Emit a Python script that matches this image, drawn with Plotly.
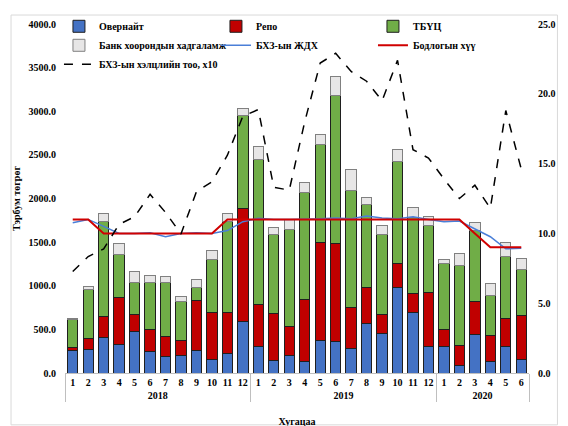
import plotly.graph_objects as go

# Periods (year, month) for the multicategory x axis.
years = ["2018"] * 12 + ["2019"] * 12 + ["2020"] * 6
months = [str(m) for m in range(1, 13)] * 2 + [str(m) for m in range(1, 7)]

# Stacked bars, billion MNT.
overnight = [255, 267, 412, 324, 480, 248, 191, 206, 259, 160, 229, 587,
             309, 141, 198, 133, 373, 362, 286, 564, 450, 983, 693, 305,
             305, 88, 442, 133, 305, 152]
repo = [42, 133, 236, 538, 191, 248, 228, 168, 568, 538, 469, 1304,
        480, 538, 335, 705, 1124, 1124, 468, 415, 217, 274, 214, 621,
        190, 232, 373, 294, 324, 511]
tbuc = [313, 561, 1094, 499, 366, 541, 618, 446, 153, 606, 1044, 1060,
        1662, 903, 1113, 1231, 1120, 1695, 1334, 956, 926, 1170, 876, 762,
        762, 911, 823, 461, 705, 526]
deposit = [15, 30, 88, 126, 126, 80, 65, 57, 87, 95, 88, 80,
           141, 88, 114, 110, 115, 217, 248, 77, 99, 133, 118, 103,
           46, 133, 88, 141, 163, 122]

# Lines on the right axis.
wavg_rate = [10.77, 11.0, 10.5, 10.0, 10.0, 10.05, 9.77, 10.0, 10.05, 10.0, 10.2, 10.84,
             11.08, 11.0, 11.0, 11.0, 11.05, 11.1, 11.05, 11.24, 11.1, 11.05, 11.19, 11.0,
             10.83, 10.88, 10.29, 9.76, 8.9, 8.93]
policy_rate = [11, 11, 10, 10, 10, 10, 10, 10, 10, 10, 11, 11,
               11, 11, 11, 11, 11, 11, 11, 11, 11, 11, 11, 11,
               11, 11, 10, 9, 9, 9]
deals_x10 = [7.27, 8.34, 8.89, 10.65, 11.2, 12.8, 11.5, 9.96, 13.0, 13.7, 15.6, 18.4,
             18.87, 13.3, 13.1, 18.0, 22.2, 22.9, 21.6, 20.9, 19.5, 22.4, 16.0, 15.4,
             13.9, 12.5, 13.45, 11.8, 18.8, 14.6]

x = [years, months]
serif = "Liberation Serif, Times New Roman, serif"
font = dict(family=serif, size=10, color="black", weight="bold")

fig = go.Figure()
bars = [("Овернайт", overnight, "#4472C4", "#1f1f1f"),
        ("Репо", repo, "#C00000", "#1f1f1f"),
        ("ТБҮЦ", tbuc, "#70AD47", "#1f1f1f"),
        ("Банк хоорондын хадгаламж", deposit, "#E7E6E6", "#808080")]
for name, vals, color, edge in bars:
    fig.add_trace(go.Bar(x=x, y=vals, name=name, marker_color=color,
                         marker_line=dict(color=edge, width=1)))

fig.add_trace(go.Scatter(x=x, y=wavg_rate, name="БХЗ-ын ЖДХ", mode="lines",
                         line=dict(color="#4A7FD8", width=1.5), yaxis="y2"))
fig.add_trace(go.Scatter(x=x, y=policy_rate, name="Бодлогын хүү", mode="lines",
                         line=dict(color="#D00000", width=2), yaxis="y2"))
fig.add_trace(go.Scatter(x=x, y=deals_x10, name="БХЗ-ын хэлцлийн тоо, x10", mode="lines",
                         line=dict(color="black", width=1.5, dash="dash"), yaxis="y2"))

L, R, T, B = 65, 30, 23, 53
W, H = 568, 426
pw, ph = W - L - R, H - T - B

fig.update_layout(
    width=W, height=H,
    margin=dict(l=L, r=R, t=T, b=B),
    barmode="stack", bargap=0.33,
    plot_bgcolor="white", paper_bgcolor="white",
    font=font,
    showlegend=True,
    legend=dict(orientation="h", x=-0.013, y=1.035, xanchor="left", yanchor="top",
                entrywidth=112, traceorder="normal", bgcolor="rgba(0,0,0,0)",
                font=font, tracegroupgap=0, itemwidth=30),
    xaxis=dict(type="multicategory", showgrid=False, showline=True, linecolor="#BFBFBF",
               dividercolor="#BFBFBF", dividerwidth=1, ticks="", tickangle=0,
               automargin=False,
               title=dict(text="Хугацаа", standoff=17, font=font)),
    yaxis=dict(range=[0, 4000], dtick=500, tickformat=".1f", showgrid=False,
               zeroline=False, showline=False, ticklabelstandoff=8,
               title=dict(text="Тэрбум төгрөг", standoff=6, font=font)),
    yaxis2=dict(range=[0, 25], dtick=5, tickformat=".1f", showgrid=False,
                zeroline=False, overlaying="y", side="right", ticklabelstandoff=8),
)

# Thin gray frame round the chart, like the original.
fig.add_shape(type="rect", xref="paper", yref="paper",
              x0=(10 - L) / pw, x1=(W - 1 - L) / pw,
              y0=-(H - 1 - T - ph) / ph, y1=1 + (T - 14) / ph,
              line=dict(color="#D9D9D9", width=1), layer="below")

# Drop the page's default 8px body margin so the figure sits at the window corner.
fig.write_html("out.html", config={"displayModeBar": False},
               post_script="document.body.style.margin='0';")
